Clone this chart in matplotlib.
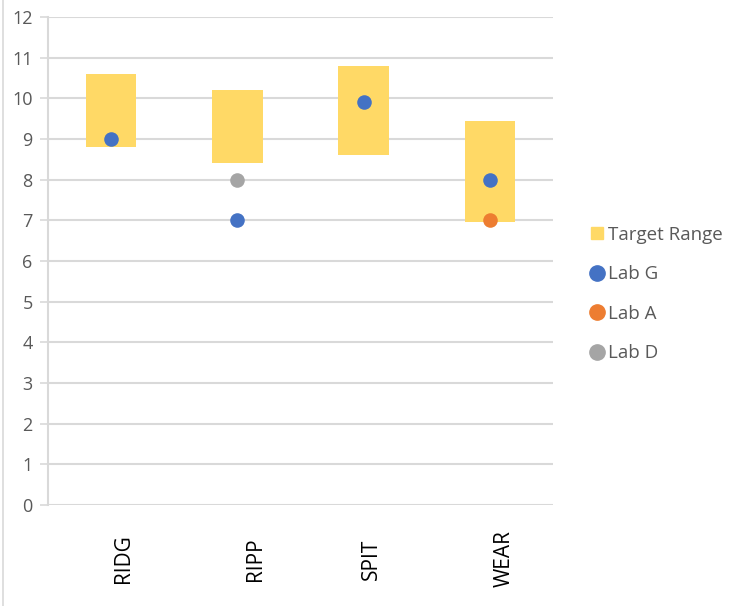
import matplotlib
matplotlib.use("Agg")
import matplotlib.pyplot as plt
import matplotlib.transforms as mtransforms
import numpy as np
from matplotlib.lines import Line2D
from matplotlib.patches import Rectangle

categories = ["RIDG", "RIPP", "SPIT", "WEAR"]
range_low = [8.8, 8.4, 8.6, 6.95]
range_high = [10.6, 10.2, 10.8, 9.45]
lab_g = [9, 7, 9.9, 8]
lab_a = [np.nan, np.nan, np.nan, 7]
lab_d = [np.nan, 8, np.nan, np.nan]
y_ticks = list(range(0, 13))

gold = "#FFD966"
blue = "#4472C4"
orange = "#ED7D31"
gray = "#A5A5A5"
grid_c = "#D9D9D9"
text_c = "#595959"

plt.rcParams['font.family'] = ['Open Sans', 'DejaVu Sans']

fig = plt.figure(figsize=(7.45, 6.06), dpi=100)
ax = fig.add_axes([48/745, 101/606, 505/745, 488/606])

x = np.arange(len(categories))
heights = np.array(range_high) - np.array(range_low)
ax.bar(x, heights, bottom=range_low, width=0.4, color=gold, zorder=2)
ms = 110
ax.scatter(x, lab_g, s=ms, color=blue, zorder=3, linewidths=0)
ax.scatter(x, lab_a, s=ms, color=orange, zorder=3, linewidths=0)
ax.scatter(x, lab_d, s=ms, color=gray, zorder=3, linewidths=0)

ax.set_xlim(-0.5, len(categories) - 0.5)
ax.set_ylim(0, 12)
ax.set_yticks(y_ticks)
ax.set_xticks(x)
ax.set_xticklabels([])
ax.tick_params(axis='y', labelsize=13, labelcolor=text_c, color=grid_c, length=6, width=1.2, pad=5)
ax.tick_params(axis='x', length=0)
ax.grid(axis='y', color=grid_c, linewidth=1.5, zorder=0)
ax.set_axisbelow(True)
for s in ['top', 'right', 'bottom']:
    ax.spines[s].set_visible(False)
ax.spines['left'].set_color(grid_c)
ax.spines['left'].set_linewidth(1.5)

# category labels, rotated, centred below the plot (slightly right of centre as in the reference)
label_shift_px = [12, 18, 8, 14]
for xi, lab, dx in zip(x, categories, label_shift_px):
    tr = ax.get_xaxis_transform() + mtransforms.ScaledTranslation(dx / 100, 0, fig.dpi_scale_trans)
    ax.text(xi, -(559 - 505) / 488, lab, transform=tr, rotation=90, ha='center', va='center',
            fontsize=15, color="black")

handles = [
    Line2D([], [], marker='s', linestyle='none', color=gold, markersize=8),
    Line2D([], [], marker='o', linestyle='none', color=blue, markersize=11),
    Line2D([], [], marker='o', linestyle='none', color=orange, markersize=11),
    Line2D([], [], marker='o', linestyle='none', color=gray, markersize=11),
]
labels = ["Target Range", "Lab G", "Lab A", "Lab D"]
leg = fig.legend(handles, labels, loc='upper left', bbox_to_anchor=(579/745, 1 - 218/606),
                 frameon=False, fontsize=13.5, labelspacing=1.15, handletextpad=0.05,
                 handlelength=1.1, borderaxespad=0)
for t in leg.get_texts():
    t.set_color(text_c)

fig.patches.append(Rectangle((3/745, -0.01), 1.0, 1.02, transform=fig.transFigure,
                             fill=False, edgecolor=grid_c, linewidth=1.2))

fig.savefig("out.png", dpi=100, facecolor="white")
